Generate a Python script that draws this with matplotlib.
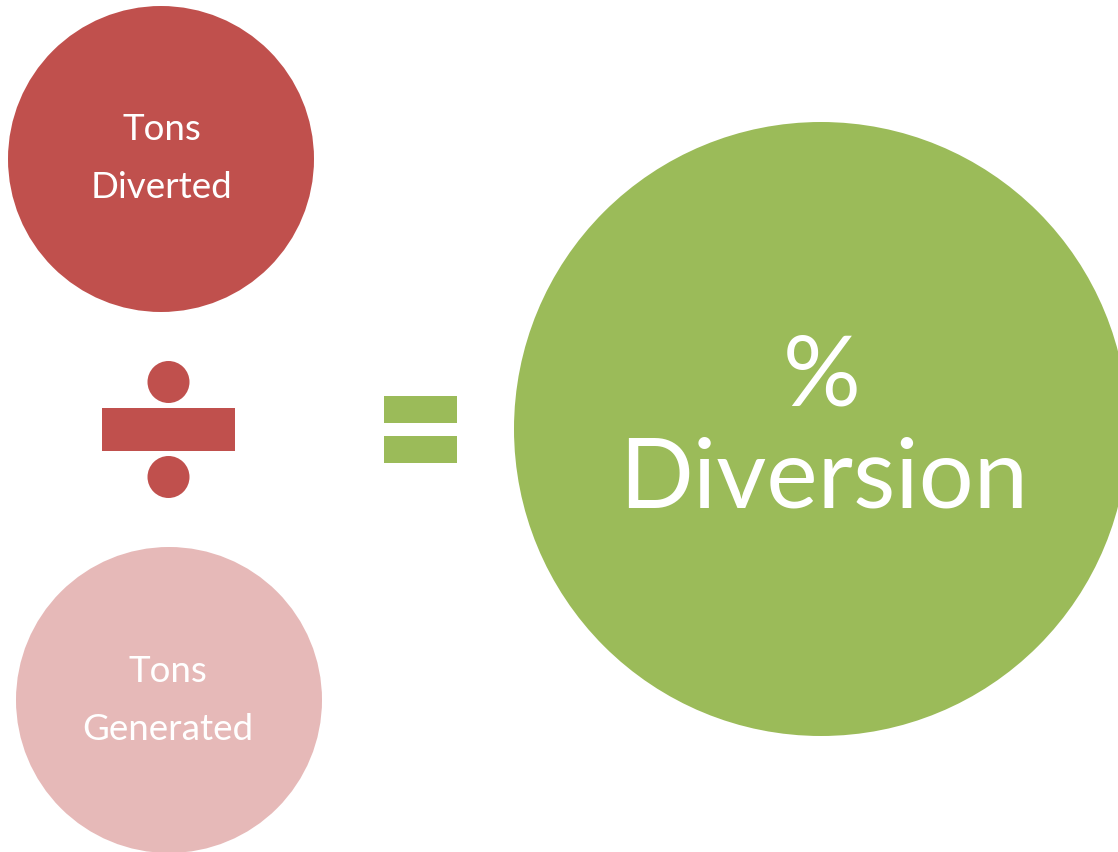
import matplotlib.pyplot as plt
from matplotlib.patches import Circle, Rectangle

# 文本与颜色
labels = ['Tons\nDiverted', 'Tons\nGenerated', '%\nDiversion']
colors = ['#C0504D', '#E6B9B8', '#9BBB59']

W, H = 1118, 852
fig = plt.figure(figsize=(W / 100, H / 100), dpi=100)
ax = fig.add_axes([0, 0, 1, 1])
ax.set_xlim(0, W)
ax.set_ylim(H, 0)
ax.set_aspect('equal')
ax.axis('off')

FONT = ['Lato', 'DejaVu Sans']

# 三个圆
centers = [(161, 159), (169, 700), (821, 429)]
radii = [153, 153, 307]
for (cx, cy), r, c in zip(centers, radii, colors):
    ax.add_patch(Circle((cx, cy), r, color=c, lw=0))

# 小圆里的文字（逐行）
small_pos = [((162, 130), (162, 187)), ((168, 672), (168, 729))]
for (p1, p2), lab in zip(small_pos, labels[:2]):
    l1, l2 = lab.split('\n')
    ax.text(*p1, l1, color='white', fontsize=26.5, ha='center', va='center', family=FONT)
    ax.text(*p2, l2, color='white', fontsize=26.5, ha='center', va='center', family=FONT)

# 大圆里的文字
big1, big2 = labels[2].split('\n')
ax.text(822, 378, big1, color='white', fontsize=70, ha='center', va='center', family=FONT)
ax.text(824, 481, big2, color='white', fontsize=70, ha='center', va='center', family=FONT)

# 除号
red = colors[0]
ax.add_patch(Rectangle((102, 408), 133, 43, color=red, lw=0))
ax.add_patch(Circle((168.5, 382), 21, color=red, lw=0))
ax.add_patch(Circle((168.5, 477), 21, color=red, lw=0))

# 等号
green = colors[2]
ax.add_patch(Rectangle((384, 396), 73, 27, color=green, lw=0))
ax.add_patch(Rectangle((384, 436), 73, 27, color=green, lw=0))

plt.savefig('out.png', dpi=100)
plt.close()
